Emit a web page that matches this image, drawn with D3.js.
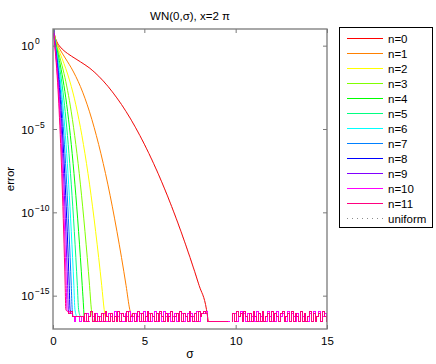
<!DOCTYPE html>
<html>
<head>
<meta charset="utf-8">
<script src="https://cdn.jsdelivr.net/npm/d3@7"></script>
<style>
    body { margin: 0; background: #fff; }
    svg { display: block; font-family: "Liberation Sans", Arial, Helvetica, sans-serif; }
</style>
</head>
<body>
<div id="chart"></div>
<script>

const params = {
    width: 436,
    height: 364,
    left: 53,
    right: 327,
    top: 29,
    bottom: 329
};

// Data ///////////////////////////////////////////////////////////////////////

// [sigma, log10(error)], down to where it meets round-off
const err0  = [[0.02, 1.30], [0.05, 0.89], [0.1, 0.58], [0.2, 0.26], [0.4, -0.08], [0.6, -0.30], [0.8, -0.47], [1.0, -0.62], [1.5, -0.97], [2.0, -1.34], [2.5, -1.83], [3.0, -2.43], [3.5, -3.14], [4.0, -3.95], [5.0, -5.91], [6.0, -8.30], [7.0, -11.13], [8.0, -14.39], [8.4, -15.82]];
const err1  = [[0.02, 1.28], [0.05, 0.88], [0.1, 0.55], [0.2, 0.18], [0.4, -0.26], [0.6, -0.62], [0.8, -0.97], [1.0, -1.33], [1.25, -1.85], [1.5, -2.45], [2.0, -3.97], [2.5, -5.93], [3.0, -8.31], [3.5, -11.14], [4.0, -14.39], [4.2, -15.82]];
const err2  = [[0.02, 1.27], [0.05, 0.86], [0.1, 0.51], [0.2, 0.09], [0.3, -0.22], [0.4, -0.50], [0.6, -1.07], [0.8, -1.70], [1.0, -2.44], [1.167, -3.15], [1.333, -3.97], [1.667, -5.93], [2.0, -8.31], [2.333, -11.14], [2.667, -14.39], [2.8, -15.82]];
const err3  = [[0.02, 1.26], [0.05, 0.84], [0.1, 0.46], [0.2, -0.02], [0.3, -0.41], [0.4, -0.80], [0.5, -1.21], [0.6, -1.66], [0.7, -2.15], [0.8, -2.70], [0.9, -3.30], [1.0, -3.97], [1.25, -5.93], [1.5, -8.31], [1.75, -11.14], [2.0, -14.39], [2.1, -15.82]];
const err4  = [[0.02, 1.25], [0.05, 0.82], [0.1, 0.42], [0.2, -0.13], [0.3, -0.63], [0.4, -1.16], [0.5, -1.74], [0.6, -2.39], [0.7, -3.13], [0.8, -3.96], [1.0, -5.92], [1.2, -8.31], [1.4, -11.14], [1.6, -14.39], [1.68, -15.82]];
const err5  = [[0.02, 1.24], [0.05, 0.80], [0.1, 0.37], [0.2, -0.27], [0.3, -0.89], [0.4, -1.57], [0.5, -2.36], [0.6, -3.27], [0.667, -3.95], [0.833, -5.92], [1.0, -8.31], [1.167, -11.14], [1.333, -14.39], [1.4, -15.82]];
const err6  = [[0.02, 1.23], [0.05, 0.77], [0.1, 0.31], [0.2, -0.41], [0.3, -1.18], [0.4, -2.06], [0.5, -3.09], [0.571, -3.93], [0.714, -5.92], [0.857, -8.31], [1.0, -11.14], [1.143, -14.39], [1.2, -15.82]];
const err7  = [[0.02, 1.22], [0.05, 0.75], [0.1, 0.26], [0.2, -0.57], [0.3, -1.50], [0.4, -2.61], [0.5, -3.92], [0.625, -5.91], [0.75, -8.31], [0.875, -11.13], [1.0, -14.39], [1.05, -15.82]];
const err8  = [[0.02, 1.21], [0.05, 0.73], [0.1, 0.20], [0.2, -0.75], [0.3, -1.87], [0.4, -3.21], [0.444, -3.90], [0.556, -5.90], [0.667, -8.31], [0.778, -11.13], [0.889, -14.39], [0.933, -15.82]];
const err9  = [[0.02, 1.20], [0.05, 0.70], [0.1, 0.14], [0.2, -0.94], [0.3, -2.25], [0.4, -3.89], [0.5, -5.89], [0.6, -8.31], [0.7, -11.13], [0.8, -14.39], [0.84, -15.82]];
const err10 = [[0.02, 1.19], [0.05, 0.68], [0.1, 0.07], [0.2, -1.14], [0.3, -2.68], [0.364, -3.87], [0.455, -5.88], [0.545, -8.30], [0.636, -11.13], [0.727, -14.39], [0.764, -15.82]];
const err11 = [[0.02, 1.18], [0.05, 0.65], [0.1, 0.00], [0.2, -1.37], [0.3, -3.14], [0.333, -3.85], [0.417, -5.87], [0.5, -8.30], [0.583, -11.12], [0.667, -14.39], [0.70, -15.82]];

// uniform approximation is the same as n=0, so it sits on top of the red curve
const errUniform = err0;

// Round-off floor, one value per sigma = 0.7, 0.8, ..., 15.0
// level 0 is an exact zero (not drawn on a log axis)
const floorOdd = [
    4, 4, 3, 4, 2, 2, 2, 2, 2, 2,
    1, 3, 1, 2, 4, 1, 3, 1, 2, 1,
    3, 1, 4, 2, 1, 3, 1, 2, 1, 4,
    1, 3, 2, 1, 4, 1, 2, 3, 1, 2,
    4, 1, 3, 1, 2, 4, 1, 3, 2, 1,
    3, 1, 4, 2, 1, 3, 1, 2, 4, 1,
    2, 3, 1, 4, 1, 3, 2, 1, 4, 2,
    1, 3, 1, 4, 2, 3, 4, 3, 1, 1,
    1, 1, 1, 1, 1, 1, 1, 1, 1, 1,
    0, 1, 3, 1, 4, 2, 3, 1, 4, 2,
    1, 3, 1, 4, 2, 1, 3, 1, 4, 1,
    2, 3, 1, 4, 1, 3, 2, 1, 3, 4,
    1, 2, 3, 1, 4, 1, 3, 2, 1, 4,
    1, 3, 1, 2, 4, 1, 3, 1, 2, 3,
    1, 4, 2, 1
];
const floorEven = [
    3, 4, 4, 3, 2, 1, 2, 2, 1, 2,
    2, 1, 3, 1, 0, 2, 1, 3, 1, 2,
    1, 3, 1, 1, 3, 2, 1, 4, 1, 2,
    3, 1, 1, 3, 2, 4, 1, 2, 3, 1,
    2, 3, 1, 4, 1, 2, 3, 1, 2, 4,
    1, 2, 3, 1, 4, 2, 1, 3, 1, 2,
    3, 1, 2, 4, 3, 1, 2, 3, 1, 3,
    2, 1, 4, 1, 2, 3, 3, 4, 1, 1,
    1, 1, 1, 1, 1, 1, 1, 1, 1, 1,
    1, 0, 2, 3, 1, 2, 4, 1, 3, 1,
    3, 1, 2, 3, 1, 4, 1, 2, 3, 1,
    1, 4, 2, 1, 3, 1, 4, 1, 2, 3,
    2, 1, 4, 1, 3, 2, 1, 3, 1, 4,
    2, 3, 1, 1, 3, 1, 4, 1, 2, 4,
    1, 2, 3, 1
];
const floorLevels = [0, 2.8e-17, 5.6e-17, 8.3e-17, 1.1e-16];
const floorSigma = d3.range(floorOdd.length).map(i => +(0.7 + i * 0.1).toFixed(1));

const labels = ["n=0", "n=1", "n=2", "n=3", "n=4", "n=5", "n=6", "n=7", "n=8", "n=9", "n=10", "n=11", "uniform"];
const xTicks = [0, 5, 10, 15];
const yTicks = [1, 1e-5, 1e-10, 1e-15];

// hsv(12)
const palette = ["#ff0000", "#ff8000", "#ffff00", "#80ff00", "#00ff00", "#00ff80",
                 "#00ffff", "#0080ff", "#0000ff", "#8000ff", "#ff00ff", "#ff0080"];


// Chart //////////////////////////////////////////////////////////////////////

const svg = d3.select("#chart")
    .append("svg")
        .attr("width", params.width)
        .attr("height", params.height)
        .attr("viewBox", [0, 0, params.width, params.height]);

const x = d3.scaleLinear().domain([0, 15]).range([params.left, params.right]);
const y = d3.scaleLog().domain([1e-17, 10]).range([params.bottom, params.top]);

svg.append("clipPath")
    .attr("id", "plot-clip")
    .append("rect")
        .attr("x", params.left)
        .attr("y", params.top)
        .attr("width", params.right - params.left)
        .attr("height", params.bottom - params.top);

const decays = [err0, err1, err2, err3, err4, err5, err6, err7, err8, err9, err10, err11, errUniform];

const series = decays.map((pts, i) => {
    const n = i === 12 ? 0 : i;
    const lastS = pts[pts.length - 1][0];
    const floorSrc = n % 2 ? floorOdd : floorEven;
    const floor = floorSrc
        .map((lv, k) => [floorSigma[k], floorLevels[lv]])
        .filter(d => d[0] > lastS + 1e-9);
    const head = pts.map(([s, l]) => [s, Math.pow(10, l)]);
    if (floor.length && floor[0][1] > 0) head.push(floor[0]);
    return { label: labels[i], head, floor, uniform: i === 12, color: i === 12 ? "#8c8c8c" : palette[i] };
});

const headLine = d3.line()
    .x(d => x(d[0]))
    .y(d => y(d[1]))
    .curve(d3.curveMonotoneX);

const floorLine = d3.line()
    .defined(d => d[1] > 0)
    .x(d => x(d[0]))
    .y(d => y(d[1]))
    .curve(d3.curveStep);

const plot = svg.append("g").attr("clip-path", "url(#plot-clip)");
const floorLayer = plot.append("g");   // uniform floor sits under the rest
const curveLayer = plot.append("g");

series.forEach(s => {
    const style = sel => sel
        .attr("fill", "none")
        .attr("stroke", s.color)
        .attr("stroke-width", s.uniform ? 0.7 : 1)
        .attr("stroke-dasharray", s.uniform ? "0.8,3.2" : null);
    const g = curveLayer.append("g").call(style);
    g.append("path").attr("d", headLine(s.head));
    (s.uniform ? floorLayer.append("g").call(style) : g)
        .append("path")
            .attr("shape-rendering", "crispEdges")
            .attr("d", floorLine(s.floor));
});

// Axes box and ticks
const axisColor = "#7a7a7a";

svg.append("rect")
    .attr("x", params.left)
    .attr("y", params.top)
    .attr("width", params.right - params.left)
    .attr("height", params.bottom - params.top)
    .attr("fill", "none")
    .attr("stroke", axisColor)
    .attr("stroke-width", 1.3);

const tickLen = 4;

svg.append("g")
    .attr("transform", `translate(0,${params.bottom})`)
    .call(d3.axisBottom(x).tickValues(xTicks).tickSize(-tickLen).tickSizeOuter(0).tickPadding(8))
    .call(g => g.select(".domain").remove())
    .call(g => g.selectAll("line").attr("stroke", axisColor))
    .call(g => g.selectAll("text")
        .attr("fill", "#000")
        .attr("font-size", 11.5)
        .attr("font-family", null));

svg.append("g")
    .attr("transform", `translate(0,${params.top})`)
    .call(d3.axisTop(x).tickValues(xTicks).tickSize(-tickLen).tickSizeOuter(0).tickFormat(""))
    .call(g => g.select(".domain").remove())
    .call(g => g.selectAll("line").attr("stroke", axisColor));

svg.append("g")
    .attr("transform", `translate(${params.left},0)`)
    .call(d3.axisLeft(y).tickValues(yTicks).tickSize(-tickLen).tickSizeOuter(0).tickFormat(""))
    .call(g => g.select(".domain").remove())
    .call(g => g.selectAll("line").attr("stroke", axisColor));

svg.append("g")
    .attr("transform", `translate(${params.right},0)`)
    .call(d3.axisRight(y).tickValues(yTicks).tickSize(-tickLen).tickSizeOuter(0).tickFormat(""))
    .call(g => g.select(".domain").remove())
    .call(g => g.selectAll("line").attr("stroke", axisColor));

// y tick labels: "10" plus superscript exponent
const yLab = svg.append("g").attr("font-size", 11.5);
yLab.selectAll("text.base")
    .data(yTicks)
    .join("text")
        .attr("class", "base")
        .attr("x", 34)
        .attr("y", d => y(d) + 4.5)
        .attr("text-anchor", "end")
        .text("10");
yLab.selectAll("text.exp")
    .data(yTicks)
    .join("text")
        .attr("class", "exp")
        .attr("x", 35)
        .attr("y", d => y(d) - 1.5)
        .attr("font-size", 8.5)
        .text(d => {
            const e = Math.round(Math.log10(d));
            return e < 0 ? "\u2212" + (-e) : String(e);
        });

// Title and axis labels
svg.append("text")
    .attr("x", (params.left + params.right) / 2)
    .attr("y", 20)
    .attr("text-anchor", "middle")
    .attr("font-size", 11.5)
    .text("WN(0,\u03c3), x=2 \u03c0");

svg.append("text")
    .attr("x", (params.left + params.right) / 2)
    .attr("y", 358)
    .attr("text-anchor", "middle")
    .attr("font-size", 12)
    .text("\u03c3");

svg.append("text")
    .attr("transform", `translate(14,${(params.top + params.bottom) / 2}) rotate(-90)`)
    .attr("text-anchor", "middle")
    .attr("font-size", 11.5)
    .text("error");


// Legend /////////////////////////////////////////////////////////////////////

const legend = svg.append("g").attr("transform", "translate(339,27)");

legend.append("rect")
    .attr("x", 0.5)
    .attr("y", 0.5)
    .attr("width", 93)
    .attr("height", 200)
    .attr("fill", "#fff")
    .attr("stroke", "#000")
    .attr("stroke-width", 1);

const entry = legend.selectAll("g.entry")
    .data(series)
    .join("g")
        .attr("class", "entry")
        .attr("transform", (d, i) => `translate(0,${11.5 + i * 15})`);

entry.append("line")
    .attr("x1", 8)
    .attr("x2", 44)
    .attr("stroke", d => d.color)
    .attr("stroke-width", 1)
    .attr("stroke-dasharray", d => d.uniform ? "1,4" : null);

entry.append("text")
    .attr("x", 49)
    .attr("y", 4)
    .attr("font-size", 11.5)
    .text(d => d.label);

</script>
</body>
</html>
